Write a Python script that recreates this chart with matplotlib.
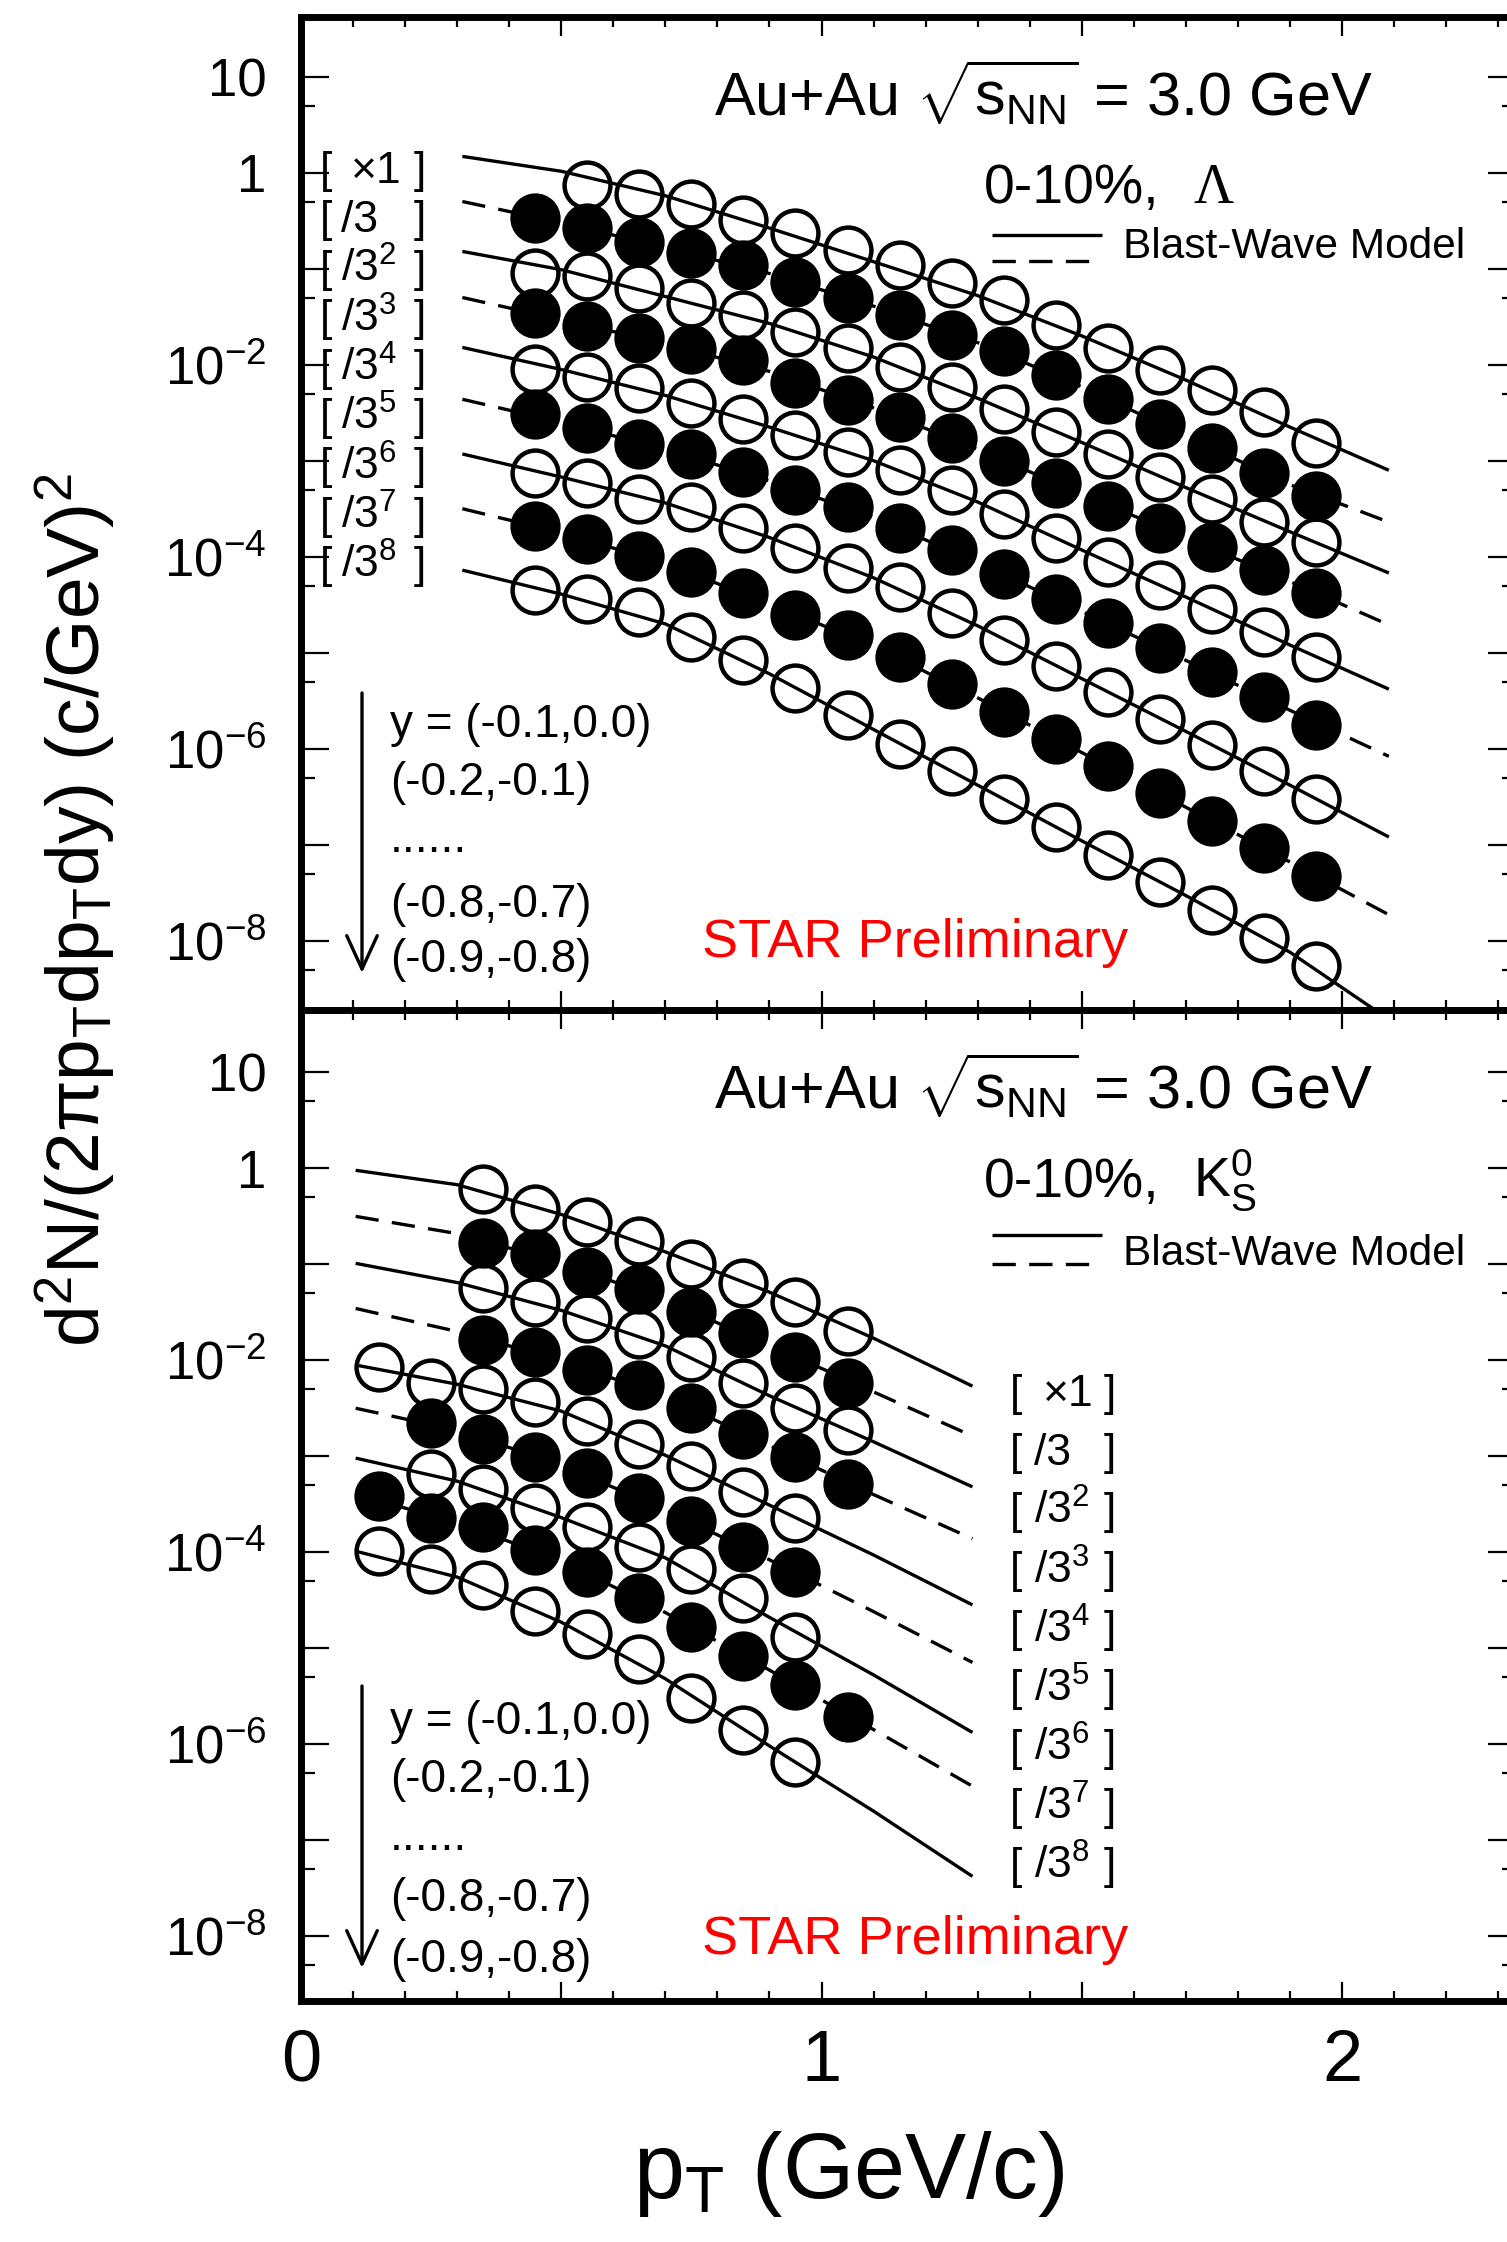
import numpy as np
import matplotlib
matplotlib.use('Agg')
import matplotlib.pyplot as plt
from matplotlib.ticker import FixedLocator, FuncFormatter, NullFormatter, MultipleLocator

plt.rcParams['font.family'] = ['Liberation Sans', 'DejaVu Sans']
plt.rcParams['mathtext.fontset'] = 'custom'
plt.rcParams['mathtext.rm'] = 'Liberation Sans'
plt.rcParams['mathtext.it'] = 'Liberation Sans:italic'
plt.rcParams['mathtext.bf'] = 'Liberation Sans:bold'
plt.rcParams['mathtext.sf'] = 'Liberation Sans'
plt.rcParams['mathtext.default'] = 'regular'

nan = np.nan

# ---------------- Lambda (upper panel), values are log10 of yield ----------------
LAM_PT = [0.45, 0.55, 0.65, 0.75, 0.85, 0.95, 1.05, 1.15, 1.25, 1.35, 1.45, 1.55, 1.65, 1.75, 1.85, 1.95]
LAM_S0 = [nan, -0.128, -0.222, -0.330, -0.493, -0.632, -0.805, -0.961, -1.152, -1.321, -1.590, -1.824, -2.059, -2.260, -2.495, -2.817]
LAM_S1 = [-0.475, -0.579, -0.718, -0.840, -0.961, -1.135, -1.309, -1.482, -1.691, -1.858, -2.106, -2.361, -2.616, -2.871, -3.125, -3.367]
LAM_S2 = [-1.048, -1.076, -1.204, -1.361, -1.482, -1.656, -1.830, -2.020, -2.229, -2.461, -2.696, -2.931, -3.166, -3.400, -3.635, -3.850]
LAM_S3 = [-1.465, -1.593, -1.725, -1.840, -1.951, -2.187, -2.368, -2.541, -2.767, -2.998, -3.233, -3.467, -3.702, -3.903, -4.138, -4.373]
LAM_S4 = [-2.048, -2.125, -2.246, -2.403, -2.569, -2.732, -2.906, -3.097, -3.305, -3.555, -3.803, -4.051, -4.292, -4.541, -4.789, -5.044]
LAM_S5 = [-2.517, -2.663, -2.829, -2.934, -3.114, -3.305, -3.479, -3.704, -3.930, -4.185, -4.440, -4.695, -4.950, -5.205, -5.459, -5.748]
LAM_S6 = [-3.125, -3.229, -3.403, -3.479, -3.704, -3.913, -4.121, -4.312, -4.590, -4.863, -5.138, -5.413, -5.687, -5.962, -6.237, -6.519]
LAM_S7 = [-3.677, -3.819, -3.993, -4.156, -4.382, -4.607, -4.815, -5.040, -5.325, -5.614, -5.895, -6.184, -6.466, -6.754, -7.036, -7.324]
LAM_S8 = [-4.347, -4.444, -4.573, -4.833, -5.080, -5.366, -5.654, -5.949, -6.237, -6.526, -6.814, -7.103, -7.391, -7.679, -7.968, -8.263]

# Blast-wave model curves (log10), read at nodes
LAM_CURVE_PT = [0.31, 0.5, 0.7, 0.9, 1.1, 1.3, 1.5, 1.7, 1.9, 2.09]
LAM_C0 = [0.17, 0.015, -0.24, -0.577, -0.927, -1.28, -1.70, -2.16, -2.65, -3.10]
LAM_C1 = [-0.30, -0.52, -0.78, -1.05, -1.39, -1.77, -2.23, -2.74, -3.25, -3.64]
LAM_C2 = [-0.82, -1.01, -1.29, -1.57, -1.92, -2.35, -2.81, -3.28, -3.74, -4.17]
LAM_C3 = [-1.30, -1.53, -1.78, -2.07, -2.45, -2.88, -3.35, -3.80, -4.26, -4.71]
LAM_C4 = [-1.82, -2.05, -2.32, -2.65, -3.00, -3.43, -3.93, -4.42, -4.92, -5.38]
LAM_C5 = [-2.36, -2.60, -2.88, -3.21, -3.59, -4.06, -4.57, -5.08, -5.60, -6.08]
LAM_C6 = [-2.93, -3.17, -3.44, -3.80, -4.22, -4.72, -5.27, -5.82, -6.38, -6.92]
LAM_C7 = [-3.50, -3.75, -4.07, -4.49, -4.93, -5.47, -6.04, -6.61, -7.18, -7.73]
LAM_C8 = [-4.14, -4.39, -4.70, -5.22, -5.80, -6.38, -6.96, -7.53, -8.12, -8.82]

# ---------------- K0S (lower panel), log10 of yield ----------------
K_PT = [0.15, 0.25, 0.35, 0.45, 0.55, 0.65, 0.75, 0.85, 0.95, 1.05]
K_S0 = [nan, nan, -0.215, -0.423, -0.557, -0.758, -0.993, -1.194, -1.395, -1.697]
K_S1 = [nan, nan, -0.778, -0.892, -1.080, -1.261, -1.496, -1.717, -1.965, -2.233]
K_S2 = [nan, nan, -1.247, -1.395, -1.563, -1.730, -1.965, -2.233, -2.502, -2.723]
K_S3 = [nan, nan, -1.784, -1.918, -2.099, -2.254, -2.502, -2.770, -3.005, -3.286]
K_S4 = [-2.066, -2.233, -2.300, -2.435, -2.636, -2.871, -3.105, -3.374, -3.642, nan]
K_S5 = [nan, -2.649, -2.817, -3.005, -3.172, -3.441, -3.675, -3.944, -4.212, nan]
K_S6 = [nan, -3.186, -3.340, -3.541, -3.742, -3.944, -4.178, -4.480, -4.883, nan]
K_S7 = [-3.420, -3.642, -3.742, -3.977, -4.212, -4.480, -4.782, -5.084, -5.386, -5.721]
K_S8 = [-3.991, -4.178, -4.346, -4.614, -4.849, -5.117, -5.520, -5.855, -6.190, nan]

K_CURVE_PT = [0.105, 0.3, 0.5, 0.7, 0.9, 1.1, 1.29]
K_C0 = [-0.02, -0.17, -0.48, -0.87, -1.29, -1.77, -2.27]
K_C1 = [-0.50, -0.68, -0.98, -1.38, -1.84, -2.33, -2.79]
K_C2 = [-0.99, -1.19, -1.48, -1.85, -2.37, -2.85, -3.32]
K_C3 = [-1.46, -1.70, -2.00, -2.38, -2.89, -3.40, -3.86]
K_C4 = [-2.05, -2.25, -2.53, -2.99, -3.51, -4.03, -4.55]
K_C5 = [-2.50, -2.73, -3.09, -3.56, -4.08, -4.62, -5.15]
K_C6 = [-3.02, -3.26, -3.64, -4.06, -4.68, -5.28, -5.88]
K_C7 = [-3.40, -3.69, -4.09, -4.63, -5.23, -5.85, -6.44]
K_C8 = [-3.99, -4.26, -4.73, -5.32, -6.02, -6.70, -7.38]

SCALE_LABELS = [r"$\times$1", "/3", "/3$^{2}$", "/3$^{3}$", "/3$^{4}$", "/3$^{5}$", "/3$^{6}$", "/3$^{7}$", "/3$^{8}$"]
Y_LABELS = ["y = (-0.1,0.0)", "(-0.2,-0.1)", "......", "(-0.8,-0.7)", "(-0.9,-0.8)"]
X_TICK_LABELS = {0: "0", 1: "1", 2: "2"}

W, H = 1507, 2242
fig = plt.figure(figsize=(W / 100, H / 100), dpi=100)

AX_L, AX_R = 301, 1516.4


def make_axes(top, bottom):
    return fig.add_axes([AX_L / W, 1 - bottom / H, (AX_R - AX_L) / W, (bottom - top) / H])


ax1 = make_axes(17, 1010)
ax2 = make_axes(1010, 2001)


def ylab(v, pos):
    e = int(round(np.log10(v)))
    if e == 1:
        return "10"
    if e == 0:
        return "1"
    if e < 0 and e % 2 == 0:
        return r"$10^{-%d}$" % (-e)
    return ""


def style_axes(ax, ylim, show_xlabels):
    ax.set_yscale('log')
    ax.set_xlim(0, 2.335)
    ax.set_ylim(*ylim)
    for sp in ax.spines.values():
        sp.set_linewidth(5)
    lo, hi = np.log10(ylim[0]), np.log10(ylim[1])
    ax.yaxis.set_major_locator(FixedLocator([10.0 ** k for k in range(-10, 3) if lo <= k <= hi]))
    ax.yaxis.set_minor_locator(FixedLocator([5 * 10.0 ** k for k in range(-11, 2)
                                             if lo <= k + np.log10(5) <= hi]))
    ax.yaxis.set_major_formatter(FuncFormatter(ylab))
    ax.yaxis.set_minor_formatter(NullFormatter())
    ax.xaxis.set_major_locator(MultipleLocator(0.5))
    ax.xaxis.set_minor_locator(MultipleLocator(0.1))
    if show_xlabels:
        ax.xaxis.set_major_formatter(FuncFormatter(
            lambda v, p: X_TICK_LABELS.get(int(round(v)), "") if abs(v - round(v)) < 1e-6 else ""))
    else:
        ax.xaxis.set_major_formatter(NullFormatter())
    ax.tick_params(axis='y', which='major', direction='in', length=20, width=1.6,
                   left=True, right=True, labelsize=38, pad=25)
    ax.tick_params(axis='y', which='minor', direction='in', length=10, width=1.6,
                   left=True, right=True)
    ax.tick_params(axis='x', which='major', direction='in', length=14, width=1.6,
                   bottom=True, top=True, labelsize=52, pad=20)
    ax.tick_params(axis='x', which='minor', direction='in', length=7, width=1.6,
                   bottom=True, top=True)


def draw_series(ax, pt, series, cpt, curves):
    for i, (vals, cv) in enumerate(zip(series, curves)):
        filled = (i % 2 == 1)
        line, = ax.plot(cpt, 10.0 ** np.array(cv), color='k', lw=2.4, zorder=2,
                        solid_capstyle='butt', dash_capstyle='butt')
        if filled:
            line.set_dashes([7, 4])
        y = 10.0 ** np.array(vals, dtype=float)
        if filled:
            ax.plot(pt, y, ls='none', marker='o', ms=33, mfc='k', mec='k', mew=3.2, zorder=4)
        else:
            ax.plot(pt, y, ls='none', marker='o', ms=33, mfc='none', mec='k', mew=3.2, zorder=3)


style_axes(ax1, (10 ** -8.722, 10 ** 1.622), False)
style_axes(ax2, (10 ** -8.679, 10 ** 1.651), True)

draw_series(ax1, LAM_PT, [LAM_S0, LAM_S1, LAM_S2, LAM_S3, LAM_S4, LAM_S5, LAM_S6, LAM_S7, LAM_S8],
            LAM_CURVE_PT, [LAM_C0, LAM_C1, LAM_C2, LAM_C3, LAM_C4, LAM_C5, LAM_C6, LAM_C7, LAM_C8])
draw_series(ax2, K_PT, [K_S0, K_S1, K_S2, K_S3, K_S4, K_S5, K_S6, K_S7, K_S8],
            K_CURVE_PT, [K_C0, K_C1, K_C2, K_C3, K_C4, K_C5, K_C6, K_C7, K_C8])

AXW = AX_R - AX_L


def panel_text(ax, top, height, X, Y, s, **kw):
    ax.text((X - AX_L) / AXW, (top + height - Y) / height, s, transform=ax.transAxes, **kw)


for ax, top, hgt, base_title, base_cent, legy in [
        (ax1, 17, 993, 115, 203, (235, 261, 258)),
        (ax2, 1010, 991, 1108, 1196.5, (1235, 1264, 1265))]:
    panel_text(ax, top, hgt, 714, base_title, r"Au+Au $\sqrt{\mathrm{s}_{\mathrm{NN}}}$ = 3.0 GeV",
               fontsize=44, ha='left', va='baseline')
    panel_text(ax, top, hgt, 984, base_cent, "0-10%,", fontsize=40, ha='left', va='baseline')
    # legend samples
    x0, x1 = (992 - AX_L) / AXW, (1102 - AX_L) / AXW
    ys = (top + hgt - legy[0]) / hgt
    yd = (top + hgt - legy[1]) / hgt
    ax.plot([x0, x1], [ys, ys], color='k', lw=2.4, transform=ax.transAxes, clip_on=False,
            solid_capstyle='butt')
    ld, = ax.plot([x0, x1], [yd, yd], color='k', lw=2.4, transform=ax.transAxes, clip_on=False,
                  dash_capstyle='butt')
    ld.set_dashes([7, 4])
    panel_text(ax, top, hgt, 1123, legy[2], "Blast-Wave Model", fontsize=30.5, ha='left', va='baseline')

panel_text(ax1, 17, 993, 1193, 203, "Λ", fontsize=40, ha='left', va='baseline',
           family=['Liberation Serif', 'DejaVu Serif'])
panel_text(ax2, 1010, 991, 1193, 1196.5, r"K$^{0}_{S}$", fontsize=40, ha='left', va='baseline')

# scale-factor labels
for k, lab in enumerate(SCALE_LABELS):
    b1 = 183 + 49.4 * k
    panel_text(ax1, 17, 993, 320, b1, "[", fontsize=32, ha='left', va='baseline')
    panel_text(ax1, 17, 993, 350 if k == 0 else 341, b1, lab, fontsize=32, ha='left', va='baseline')
    panel_text(ax1, 17, 993, 414, b1, "]", fontsize=32, ha='left', va='baseline')
    b2 = 1406 + 59.1 * k
    panel_text(ax2, 1010, 991, 1010, b2, "[", fontsize=32, ha='left', va='baseline')
    panel_text(ax2, 1010, 991, 1042 if k == 0 else 1034, b2, lab, fontsize=32, ha='left', va='baseline')
    panel_text(ax2, 1010, 991, 1104, b2, "]", fontsize=32, ha='left', va='baseline')

# rapidity annotations and STAR preliminary
for ax, top, hgt, cents, dotb, arr, starb in [
        (ax1, 17, 993, (725, 783, 905, 960), 852, (693, 973), 957),
        (ax2, 1010, 991, (1721.6, 1779.6, 1898.8, 1960), 1850.5, (1686, 1968), 1953.6)]:
    panel_text(ax, top, hgt, 390, cents[0], Y_LABELS[0], fontsize=33, ha='left', va='center')
    panel_text(ax, top, hgt, 390, cents[1], Y_LABELS[1], fontsize=33, ha='left', va='center')
    panel_text(ax, top, hgt, 390, dotb, Y_LABELS[2], fontsize=33, ha='left', va='baseline')
    panel_text(ax, top, hgt, 390, cents[2], Y_LABELS[3], fontsize=33, ha='left', va='center')
    panel_text(ax, top, hgt, 390, cents[3], Y_LABELS[4], fontsize=33, ha='left', va='center')
    xa = (362 - AX_L) / AXW
    ax.annotate('', xy=(xa, (top + hgt - arr[1]) / hgt), xytext=(xa, (top + hgt - arr[0]) / hgt),
                xycoords='axes fraction', textcoords='axes fraction',
                arrowprops=dict(arrowstyle='->,head_length=2.4,head_width=1.1', lw=2.4,
                                color='k', mutation_scale=10, shrinkA=0, shrinkB=0))
    panel_text(ax, top, hgt, 702, starb, "STAR Preliminary", fontsize=39, color='#ff0000',
               ha='left', va='baseline')

fig.text(633 / W, 1 - 2198 / H, r"p$_{\mathrm{T}}$ (GeV/c)", fontsize=66, ha='left', va='baseline')
fig.text(76 / W, 1 - 910 / H, r"d$^{2}$N/(2$\pi$p$_{\mathrm{T}}$dp$_{\mathrm{T}}$dy) (c/GeV)$^{2}$",
         fontsize=54, rotation=90, ha='center', va='center')

fig.savefig('out.png', dpi=100)
